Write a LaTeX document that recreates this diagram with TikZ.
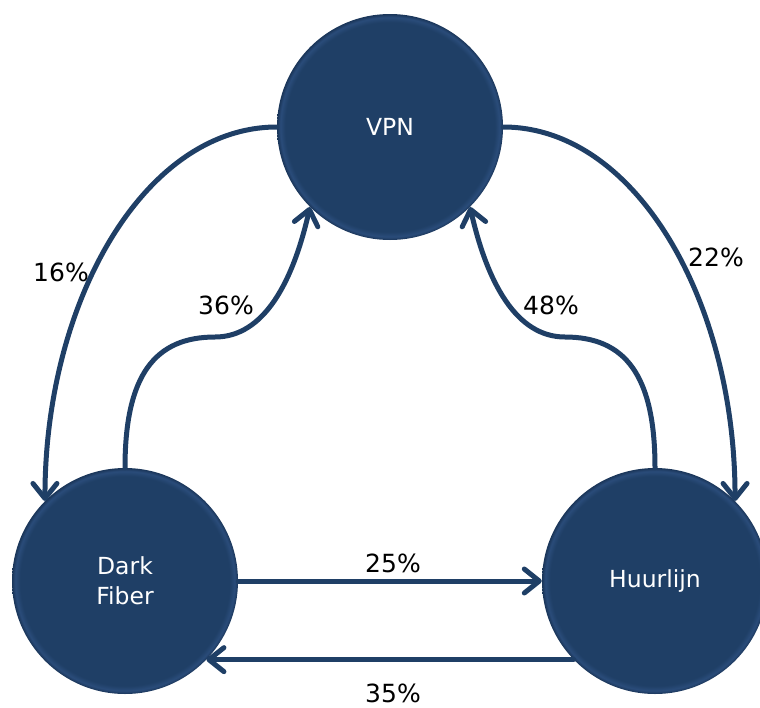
\documentclass[tikz,border=0pt]{standalone}
\usepackage{fontspec}
\setmainfont{DejaVu Sans}
\usetikzlibrary{arrows.meta}
\definecolor{navy}{HTML}{1F3F66}
\definecolor{navyrim}{HTML}{2A4C7A}
\definecolor{navyedge}{HTML}{1A3558}
% flat disc with a thin bevelled rim
\pgfdeclareradialshading{bevelball}{\pgfpoint{0bp}{0bp}}{%
  color(0bp)=(navy); color(23.2bp)=(navy); color(24.3bp)=(navyrim);
  color(25bp)=(navyedge); color(50bp)=(navyedge)}
\begin{document}
\begin{tikzpicture}[x=1pt,y=-1pt,
  state/.style={circle, minimum size=226pt, inner sep=0pt, shade, shading=bevelball,
    text=white, align=center, font=\fontsize{23.5}{30}\selectfont},
  flow/.style={draw=navy, line width=5pt, line cap=round,
    -{Straight Barb[length=15pt,width=24pt,round]}},
  pct/.style={text=black, font=\fontsize{25}{28}\selectfont}]
\useasboundingbox (0,0) rectangle (760,707);
\clip (0,0) rectangle (760,707);

% states
\node[state] (vpn) at (390,127) {VPN};
\node[state] (df)  at (125,581) {Dark\\Fiber};
\node[state] (hu)  at (655,581) {Huurlijn};

% transitions
\draw[flow] (vpn.west) .. controls (145,127) and (45,300) .. (df.135);
\draw[flow] (vpn.east) .. controls (635,127) and (735,300) .. (hu.45);
\draw[flow] (df.north) .. controls (125,375) and (155,337) .. (215,337)
                       .. controls (264,337) and (293,282) .. (vpn.225);
\draw[flow] (hu.north) .. controls (655,375) and (625,337) .. (565,337)
                       .. controls (516,337) and (487,282) .. (vpn.315);
\draw[flow] (df.east) -- (hu.west);
\draw[flow] (hu.224) -- (df.316);

% shares
\node[pct] (p16) at (61,272)  {16\%};
\node[pct] (p36) at (226,305) {36\%};
\node[pct] (p22) at (716,257) {22\%};
\node[pct] (p48) at (551,305) {48\%};
\node[pct] (p25) at (393,563) {25\%};
\node[pct] (p35) at (393,693) {35\%};
\end{tikzpicture}
\end{document}
